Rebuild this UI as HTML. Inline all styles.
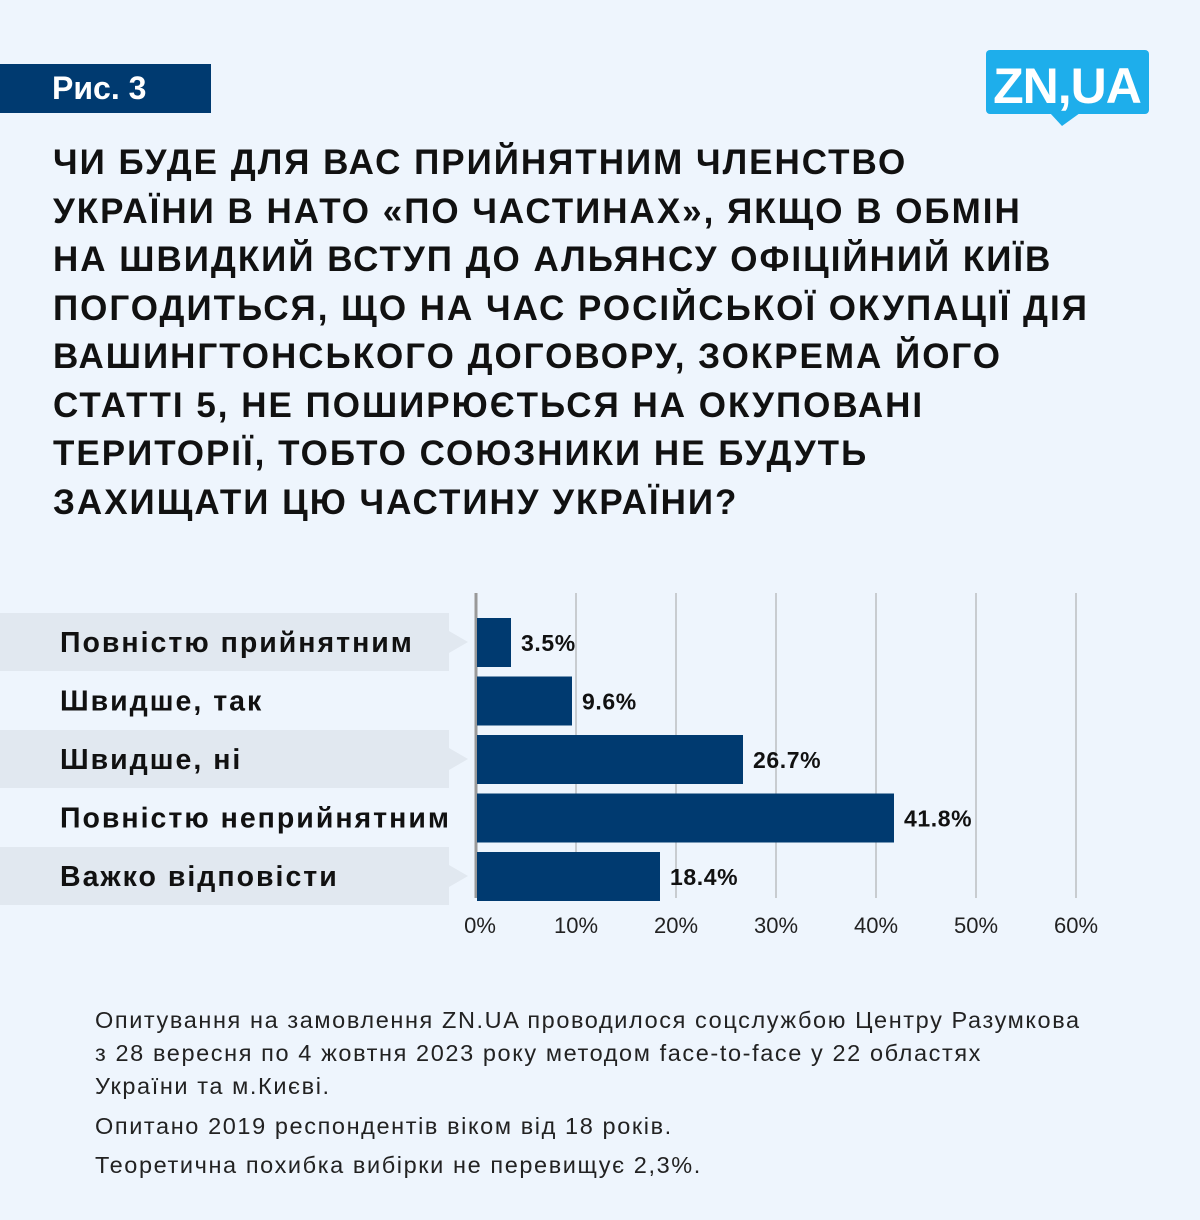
<!DOCTYPE html>
<html><head><meta charset="utf-8"><style>
body{margin:0;width:1200px;height:1220px;background:#eef5fd;font-family:"Liberation Sans",sans-serif;position:relative;overflow:hidden}
.abs{position:absolute}
#tag{left:0;top:64px;width:211px;height:49px;background:#003a70;color:#fff;font-weight:bold;font-size:32px;line-height:49px;box-sizing:border-box;padding-left:52px}
#title{left:53px;top:139px;width:1140px;font-weight:bold;font-size:35px;line-height:48.5px;color:#111;letter-spacing:2.0px;white-space:nowrap}
.foot{left:95px;font-size:23.5px;color:#222;line-height:33px;letter-spacing:1.6px;white-space:nowrap}
</style></head><body>
<div class="abs" id="tag">Рис. 3</div>
<svg class="abs" style="left:980px;top:45px" width="180" height="90">
<rect x="6" y="5" width="163" height="64" rx="4" fill="#1eaeeb"/>
<polygon points="70,68 100,68 82,81" fill="#1eaeeb"/>
<text x="87" y="58" text-anchor="middle" font-family="Liberation Sans" font-weight="bold" font-size="50" fill="#fff" letter-spacing="-1">ZN,UA</text>
</svg>
<div class="abs" id="title">ЧИ БУДЕ ДЛЯ ВАС ПРИЙНЯТНИМ ЧЛЕНСТВО<br>УКРАЇНИ В НАТО «ПО ЧАСТИНАХ», ЯКЩО В ОБМІН<br>НА ШВИДКИЙ ВСТУП ДО АЛЬЯНСУ ОФІЦІЙНИЙ КИЇВ<br>ПОГОДИТЬСЯ, ЩО НА ЧАС РОСІЙСЬКОЇ ОКУПАЦІЇ ДІЯ<br>ВАШИНГТОНСЬКОГО ДОГОВОРУ, ЗОКРЕМА ЙОГО<br>СТАТТІ 5, НЕ ПОШИРЮЄТЬСЯ НА ОКУПОВАНІ<br>ТЕРИТОРІЇ, ТОБТО СОЮЗНИКИ НЕ БУДУТЬ<br>ЗАХИЩАТИ ЦЮ ЧАСТИНУ УКРАЇНИ?</div>
<svg class="abs" style="left:0;top:0" width="1200" height="960" id="chart"></svg>
<div class="abs foot" style="top:1004px">Опитування на замовлення ZN.UA проводилося соцслужбою Центру Разумкова<br>з 28 вересня по 4 жовтня 2023 року методом face-to-face у 22 областях<br>України та м.Києві.</div>
<div class="abs foot" style="top:1110px">Опитано 2019 респондентів віком від 18 років.</div>
<div class="abs foot" style="top:1149px">Теоретична похибка вибірки не перевищує 2,3%.</div>
<script>
const categories=["Повністю прийнятним","Швидше, так","Швидше, ні","Повністю неприйнятним","Важко відповісти"];
const values=[3.5,9.6,26.7,41.8,18.4];
const ticks=[0,10,20,30,40,50,60];
const svg=document.getElementById('chart');const NS='http://www.w3.org/2000/svg';
const x0=476,x1=1076,xmax=60;
const xs=v=>x0+(x1-x0)*v/xmax;
const rowTop=613,rowH=58.5;
const ys=i=>rowTop+i*rowH;
function mk(t,a){const e=document.createElementNS(NS,t);for(const k in a)e.setAttribute(k,a[k]);svg.appendChild(e);return e;}
categories.forEach((c,i)=>{
 if(i%2===0){const p=mk('polygon',{points:`0,${ys(i)} 449,${ys(i)} 449,${ys(i)+18} 468,${ys(i)+29} 449,${ys(i)+40} 449,${ys(i)+58} 0,${ys(i)+58}`,fill:'#e1e8f0'});
 
 }
 const t=mk('text',{x:60,y:ys(i)+39,'font-size':'28.5','font-weight':'bold',fill:'#111','font-family':'Liberation Sans','letter-spacing':'2'});t.textContent=c;
 
 
});
ticks.forEach(v=>{
 const l=mk('line',{x1:xs(v),x2:xs(v),y1:593,y2:898,stroke:v===0?'#999':'#c8ccd0','stroke-width':v===0?3:2});
 
 
 const t=mk('text',{x:xs(v),y:933,'text-anchor':'middle','font-size':'22',fill:'#222','font-family':'Liberation Sans'});
 if(v===0)t.setAttribute('x',xs(v)+4);
 t.textContent=v+'%';
 
 
});
values.forEach((v,i)=>{
 const y=ys(i)+5;
 const r=mk('rect',{x:x0+1,y:y,width:xs(v)-x0-1,height:49,fill:'#003a70'});
 
 
 const t=mk('text',{x:xs(v)+10,y:y+33,'font-size':'23','font-weight':'bold',fill:'#111','font-family':'Liberation Sans','letter-spacing':'0.6'});
 t.textContent=v.toFixed(1)+'%';
 
 
});
</script>
</body></html>
